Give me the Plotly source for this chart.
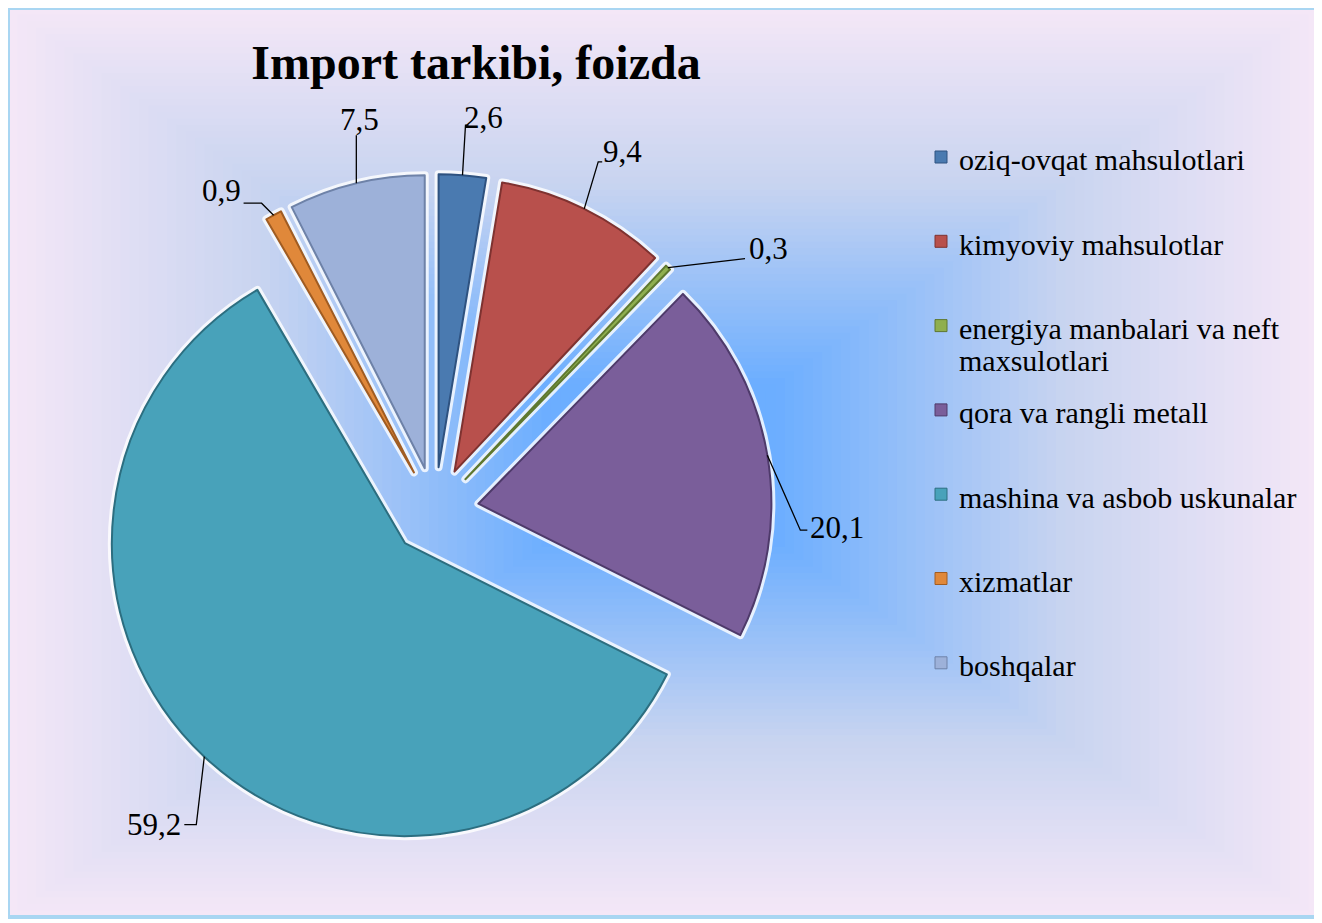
import math
import plotly.graph_objects as go

# ---------------- data ----------------
title_text = "Import tarkibi, foizda"
categories = [
    "oziq-ovqat mahsulotlari",
    "kimyoviy mahsulotlar",
    "energiya manbalari va neft<br>maxsulotlari",
    "qora va rangli metall",
    "mashina va asbob uskunalar",
    "xizmatlar",
    "boshqalar",
]
values = [2.6, 9.4, 0.3, 20.1, 59.2, 0.9, 7.5]

# ---------------- style ----------------
W, H = 1322, 923
OFF = 8  # page body margin
slice_colors = ["#4A7AB0", "#B8504C", "#8FAF4F", "#7A5E9A", "#48A2BA", "#E0883A", "#9DB1D9"]
edge_colors = ["#2E5280", "#7E3230", "#5E7830", "#4E3A6A", "#2C6E80", "#A05C22", "#6E82A8"]
PULL = 0.15
FONT = "Liberation Serif, Times New Roman, serif"


def px(x):
    return (x - OFF) / W


def py(y):
    return 1 - (y - OFF) / H


# pie box in page pixels (square)
box_cx, box_cy, box_half = 435, 511, 337
dom_x = [px(box_cx - box_half), px(box_cx + box_half)]
dom_y = [py(box_cy + box_half), py(box_cy - box_half)]

# label leader paths (pixel offsets from the slice-edge anchor; y up) and text offsets
leader_paths = [
    "M0,0 L3,50 L6,50",
    "M0,0 L14,47 L18,47",
    "M0,0 L77,9",
    "M0,0 L33,-75 L40,-75",
    "M0,0 L-8,-68 L-20,-68",
    "M0,0 L-12,12 L-30,12",
    "M0,0 L0,48",
]
label_shift = [(0, 58, "left"), (17, 57, "left"), (79, 19, "left"), (41, -72, "left"),
               (-21, -68, "right"), (-31, 25, "right"), (3, 64, "center")]

fig = go.Figure()

# glow layer under the pie
fig.add_trace(go.Pie(
    values=values, labels=categories, sort=False, direction="clockwise", rotation=0,
    pull=[PULL] * len(values), domain=dict(x=dom_x, y=dom_y),
    marker=dict(colors=["rgba(255,255,255,0.8)"] * len(values),
                line=dict(color="rgba(255,255,255,0.8)", width=8)),
    textinfo="none", hoverinfo="skip", showlegend=False,
))
# main pie
fig.add_trace(go.Pie(
    values=values, labels=categories, sort=False, direction="clockwise", rotation=0,
    pull=[PULL] * len(values), domain=dict(x=dom_x, y=dom_y),
    marker=dict(colors=slice_colors, line=dict(color=edge_colors, width=2)),
    textinfo="none", showlegend=False,
))

shapes = []
# background: rectangular "from centre" gradient
fx0, fx1, fy0, fy1 = 8, 1318, 8, 917
gcx, gcy = (fx0 + fx1) / 2, (fy0 + fy1) / 2
hw, hh = (fx1 - fx0) / 2, (fy1 - fy0) / 2
outer = (244, 231, 247)
mid = (200, 212, 240)
inner = (108, 174, 255)
N = 70
for k in range(N):
    t = 1 - k / N
    if t >= 0.62:
        f = (t - 0.62) / 0.38
        c = tuple(round(mid[i] + (outer[i] - mid[i]) * f) for i in range(3))
    elif t >= 0.18:
        f = (t - 0.18) / 0.44
        c = tuple(round(inner[i] + (mid[i] - inner[i]) * f) for i in range(3))
    else:
        c = inner
    shapes.append(dict(
        type="rect", xref="paper", yref="paper", layer="below",
        x0=px(gcx - hw * t), x1=px(gcx + hw * t),
        y0=py(gcy + hh * t), y1=py(gcy - hh * t),
        fillcolor="rgb(%d,%d,%d)" % c, line=dict(width=0),
    ))
shapes.append(dict(
    type="rect", xref="paper", yref="paper", layer="below",
    x0=px(fx0), x1=px(fx1), y0=py(fy1), y1=py(fy0),
    line=dict(color="#A9D6F2", width=4), fillcolor="rgba(0,0,0,0)",
))

annotations = []
total = sum(values)
cum = 0.0
for i, v in enumerate(values):
    mid_ang = 2 * math.pi * (cum + v / 2) / total
    cum += v
    ax_p = px(box_cx + box_half * math.sin(mid_ang))
    ay_p = py(box_cy - box_half * math.cos(mid_ang))
    shapes.append(dict(
        type="path", xref="paper", yref="paper", xsizemode="pixel", ysizemode="pixel",
        xanchor=ax_p, yanchor=ay_p, path=leader_paths[i],
        line=dict(color="black", width=1.3), layer="above",
    ))
    dx, dy, anc = label_shift[i]
    annotations.append(dict(
        x=ax_p, y=ay_p, xref="paper", yref="paper", showarrow=False,
        xshift=dx, yshift=dy, xanchor=anc, yanchor="middle",
        text=("%.1f" % v).replace(".", ","),
        font=dict(family=FONT, size=31, color="black"),
    ))

# manual legend
leg_x_sq, leg_x_txt = 935, 957
leg_y0, leg_dy = 160, 84.3
for i, name in enumerate(categories):
    yc = leg_y0 + i * leg_dy
    shapes.append(dict(
        type="rect", xref="paper", yref="paper",
        x0=px(leg_x_sq), x1=px(leg_x_sq + 12),
        y0=py(yc + 3), y1=py(yc - 9),
        fillcolor=slice_colors[i], line=dict(color=edge_colors[i], width=1), layer="above",
    ))
    for j, line in enumerate(name.split("<br>")):
        annotations.append(dict(
            x=px(leg_x_txt), y=py(yc + j * 32), xref="paper", yref="paper",
            showarrow=False, xanchor="left", yanchor="middle", text=line,
            font=dict(family=FONT, size=30, color="black"),
        ))

fig.update_layout(
    width=W, height=H,
    margin=dict(l=0, r=0, t=0, b=0),
    paper_bgcolor="white", plot_bgcolor="white",
    title=dict(text="<b>%s</b>" % title_text, x=px(476), y=py(62),
               xanchor="center", yanchor="middle",
               font=dict(family=FONT, size=48, color="black")),
    shapes=shapes, annotations=annotations, showlegend=False,
)

fig.write_html("out.html")
